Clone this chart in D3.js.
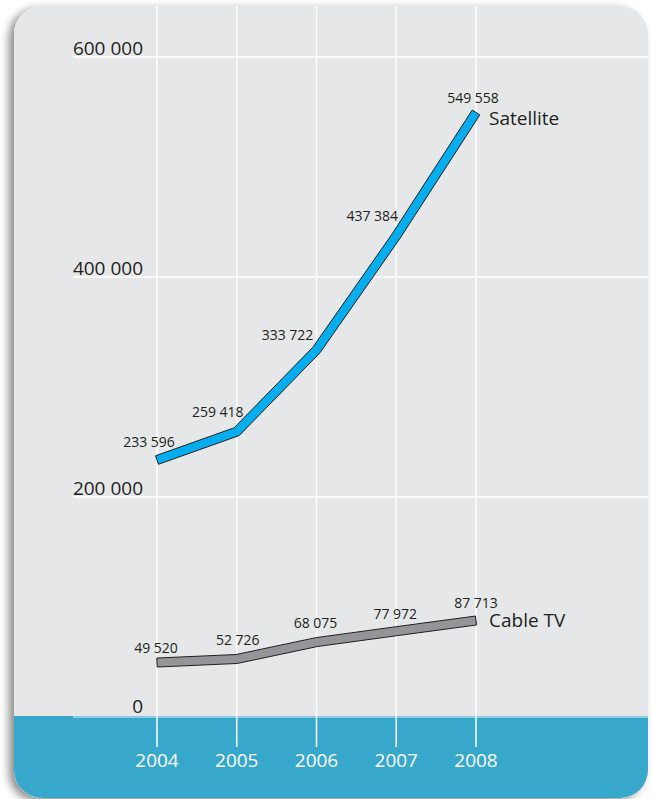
<!DOCTYPE html>
<html><head><meta charset="utf-8">
<script src="https://cdn.jsdelivr.net/npm/d3@7"></script>
<style>body{margin:0;background:#fff}svg{display:block}text{font-family:"Open Sans",sans-serif}</style>
</head><body>
<script>
const years = [2004, 2005, 2006, 2007, 2008];
const satellite = [233596, 259418, 333722, 437384, 549558];
const cable = [49520, 52726, 68075, 77972, 87713];
const yTicks = [0, 200000, 400000, 600000];
const seriesNames = ["Satellite", "Cable TV"];

const W = 653, H = 799;
const svg = d3.select("body").append("svg").attr("width", W).attr("height", H);
const defs = svg.append("defs");
const f = defs.append("filter").attr("id","sh").attr("x","-10%").attr("y","-10%").attr("width","120%").attr("height","120%");
f.append("feDropShadow").attr("dx",-5).attr("dy",3).attr("stdDeviation",4).attr("flood-color","#000").attr("flood-opacity",0.45);

const panel = {x:14, y:6, w:634, h:792, r:28};
defs.append("clipPath").attr("id","pc").append("rect")
  .attr("x",panel.x).attr("y",panel.y).attr("width",panel.w).attr("height",panel.h).attr("rx",panel.r);
svg.append("rect").attr("x",panel.x).attr("y",panel.y).attr("width",panel.w).attr("height",panel.h)
  .attr("rx",panel.r).attr("fill","#e6e7e8").attr("filter","url(#sh)");

const x = d3.scaleLinear().domain([2004, 2008]).range([157, 476]);
const y = d3.scaleLinear().domain([0, 600000]).range([717, 57]);

const g = svg.append("g").attr("clip-path","url(#pc)");
g.append("rect").attr("x",panel.x).attr("y",y(0)-1).attr("width",panel.w).attr("height",200).attr("fill","#37a7cc");

// horizontal grid
g.selectAll("line.h").data(yTicks).join("line")
  .attr("x1",73).attr("x2",panel.x+panel.w).attr("y1",d=>y(d)).attr("y2",d=>y(d))
  .attr("stroke", d=> d===0 ? "#a9d8e8" : "#fff").attr("stroke-width",1.5);
// vertical grid
g.selectAll("line.v").data(years).join("line")
  .attr("x1",d=>x(d)).attr("x2",d=>x(d)).attr("y1",panel.y).attr("y2",747)
  .attr("stroke","#fff").attr("stroke-width",1.5);

// y labels
const fmt = v => d3.format(",")(v).replace(/,/g," ");
svg.selectAll("text.yl").data(yTicks).join("text")
  .attr("x",143).attr("y",d=>y(d)-(d===0?4:2)).attr("text-anchor","end")
  .attr("font-size",19).attr("fill","#231f20").text(fmt);
// x labels
svg.selectAll("text.xl").data(years).join("text")
  .attr("x",d=>x(d)).attr("y",767).attr("text-anchor","middle")
  .attr("font-size",19).attr("fill","#fff").text(d=>d);

function ribbon(pts, h){
  const n = pts.length;
  const norms = [];
  for(let i=0;i<n-1;i++){
    const dx=pts[i+1][0]-pts[i][0], dy=pts[i+1][1]-pts[i][1], L=Math.hypot(dx,dy);
    norms.push([-dy/L, dx/L]);
  }
  function side(s){
    const out=[];
    for(let i=0;i<n;i++){
      let nx, ny;
      if(i===0){[nx,ny]=norms[0];}
      else if(i===n-1){[nx,ny]=norms[n-2];}
      else{
        const a=norms[i-1], b=norms[i];
        let mx=a[0]+b[0], my=a[1]+b[1]; const ml=Math.hypot(mx,my); mx/=ml; my/=ml;
        const c = mx*a[0]+my*a[1];
        nx=mx/c; ny=my/c;
      }
      out.push([pts[i][0]+s*h*nx, pts[i][1]+s*h*ny]);
    }
    return out;
  }
  const a=side(1), b=side(-1).reverse();
  return "M"+a.concat(b).map(p=>p.join(",")).join("L")+"Z";
}

const series = [
  {name:seriesNames[0], values:satellite, fill:"#00aeef",
   ldx:[-8,-19,-29,-24,-3], ldy:[-13,-15,-10,-15,-9], nameDy:13},
  {name:seriesNames[1], values:cable, fill:"#939598",
   ldx:[-1,1,-1,-1,0], ldy:[-10,-14,-14,-12,-13], nameDy:6}
];
series.forEach(s=>{
  const pts = years.map((yr,i)=>[x(yr), y(s.values[i])]);
  svg.append("path").attr("d", ribbon(pts, 4.5)).attr("fill", s.fill)
    .attr("stroke","#231f20").attr("stroke-width",1).attr("stroke-linejoin","miter");
  svg.selectAll(null).data(s.values).join("text")
    .attr("x",(d,i)=>x(years[i])+s.ldx[i]).attr("y",(d,i)=>y(d)+s.ldy[i])
    .attr("text-anchor","middle").attr("font-size",14).attr("fill","#231f20").text(fmt);
  const last = pts[pts.length-1];
  svg.append("text").attr("x",489).attr("y",last[1]+s.nameDy).attr("font-size",19)
    .attr("fill","#231f20").text(s.name);
});
</script>
</body></html>
